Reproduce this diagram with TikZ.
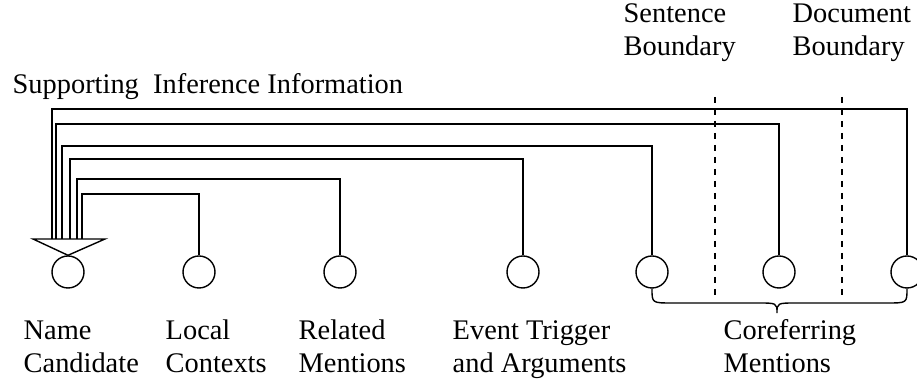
\documentclass[tikz,border=0pt]{standalone}
\usepackage{fontspec}
\setmainfont{Liberation Serif}

\begin{document}
\begin{tikzpicture}[x=0.5pt,y=-0.5pt,line width=0.7pt,
	mention/.style={draw,circle,minimum size=16pt,inner sep=0pt},
	lbl/.style={anchor=base west,align=left,inner sep=0pt,font=\fontsize{14.2}{16.5}\selectfont}]
	\useasboundingbox (0,0) rectangle (917,383);
	\node[mention] (cand) at (68,272) {};
	\node[mention] (loc)  at (199,272) {};
	\node[mention] (rel)  at (340,272) {};
	\node[mention] (evt)  at (523,272) {};
	\node[mention] (corA) at (652,272) {};
	\node[mention] (corB) at (779,272) {};
	\node[mention] (corC) at (907,272) {};
	\draw (33,239) -- (105,239) -- (cand.north) -- cycle;
	\foreach \x/\y/\c in {52/109/corC,56/124/corB,62/146/corA,70/159/evt,77/179/rel,82/194/loc}
		\draw (\x,239) -- (\x,\y) -| (\c.north);
	\draw[dashed] (715,97) -- (715,297)
		(842,97) -- (842,297);
	\draw (corA.south) .. controls (652,303) .. (672,303) -- (757,303)
		.. controls (777,303) .. (777,313) .. controls (777,303) .. (797,303)
		-- (887,303) .. controls (907,303) .. (corC.south);
	\node[lbl] (supp) at (12,94) {Supporting\ \ Inference Information};
	\node[lbl] (sent) at (623,56) {Sentence\\Boundary};
	\node[lbl] (docb) at (792,56) {Document\\Boundary};
	\node[lbl] (candt) at (23,373) {Name\\Candidate};
	\node[lbl] (loct) at (165,373) {Local\\Contexts};
	\node[lbl] (relt) at (298,373) {Related\\Mentions};
	\node[lbl] (evtt) at (452,373) {Event Trigger\\and Arguments};
	\node[lbl] (cort) at (723,373) {Coreferring\\Mentions};
\end{tikzpicture}
\end{document}
